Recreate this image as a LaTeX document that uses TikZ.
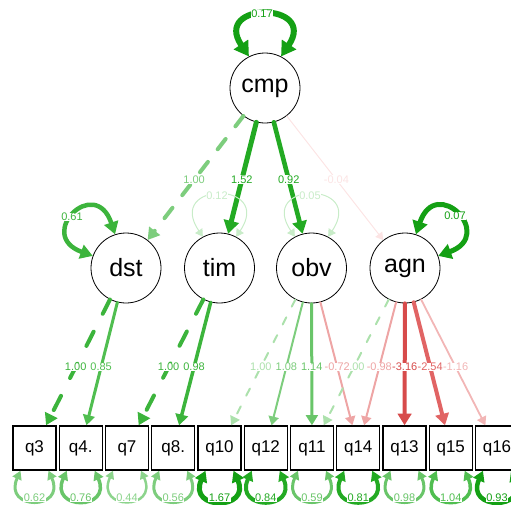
\documentclass[tikz,border=0pt]{standalone}
\usepackage{fontspec}
\setmainfont{Liberation Sans}
\usetikzlibrary{arrows.meta,calc}
\definecolor{gA}{RGB}{20,160,20}
\definecolor{gB}{RGB}{35,170,35}
\definecolor{gC}{RGB}{60,180,60}
\definecolor{gD}{RGB}{80,190,80}
\definecolor{gE}{RGB}{105,197,105}
\definecolor{gF}{RGB}{125,205,125}
\definecolor{gG}{RGB}{140,212,140}
\definecolor{gH}{RGB}{172,225,172}
\definecolor{gI}{RGB}{200,236,200}
\definecolor{rA}{RGB}{215,75,75}
\definecolor{rB}{RGB}{225,100,100}
\definecolor{rC}{RGB}{238,165,165}
\definecolor{rD}{RGB}{242,182,182}
\definecolor{rE}{RGB}{252,228,228}
\tikzset{
  semtip/.tip={Triangle[length=6pt 1.4,width=7pt 1.6]},
  boxtip/.tip={Triangle[length=5pt 1.2,width=5pt 1.5]},
}
\begin{document}
\begin{tikzpicture}[x=1pt,y=-1pt,
  lat/.style={circle,draw=black,fill=white,line width=0.8pt,minimum size=70pt,inner sep=0pt,font=\fontsize{25}{30}\selectfont},
  man/.style={rectangle,draw=black,fill=white,line width=1.4pt,minimum width=43pt,minimum height=44pt,inner sep=0pt,font=\fontsize{17}{20}\selectfont},
  ed/.style={line cap=round,-{semtip}},
  lloop/.style={line cap=round,{semtip}-{semtip}},
  bloop/.style={line cap=round,{boxtip}-{boxtip}},
  lbl/.style={fill=white,inner sep=0.5pt,font=\fontsize{11}{13}\selectfont},
]
\useasboundingbox (0,0) rectangle (511,504);
% latent nodes
\node[lat] (cmp) at (265,88) {cmp};
\node[lat] (dst) at (126,268) {dst};
\node[lat] (tim) at (219.5,268) {tim};
\node[lat] (obv) at (311.5,268) {obv};
\node[lat] (agn) at (405,268) {agn};
% manifest nodes
\node[man] (q3) at (34.5,448) {q3};
\node[man] (q4) at (80.75,448) {q4.};
\node[man] (q7) at (127,448) {q7};
\node[man] (q8) at (173.25,448) {q8.};
\node[man] (q10) at (219.5,448) {q10};
\node[man] (q12) at (265.75,448) {q12};
\node[man] (q11) at (312,448) {q11};
\node[man] (q14) at (358.25,448) {q14};
\node[man] (q13) at (404.5,448) {q13};
\node[man] (q15) at (450.75,448) {q15};
\node[man] (q16) at (497,448) {q16};
% upper edges
\draw[ed,gF,line width=4pt,dash pattern=on 13pt off 16pt] (cmp) -- (dst);
\draw[ed,gB,line width=5pt] (cmp) -- (tim);
\draw[ed,gB,line width=4.6pt] (cmp) -- (obv);
\draw[ed,rE,line width=1pt] (cmp) -- (agn);
% lower edges
\draw[ed,gC,line width=4pt,dash pattern=on 16pt off 20pt] (dst) -- (q3);
\draw[ed,gD,line width=3pt] (dst) -- (q4);
\draw[ed,gC,line width=4pt,dash pattern=on 16pt off 20pt] (tim) -- (q7);
\draw[ed,gC,line width=3.5pt] (tim) -- (q8);
\draw[ed,gH,line width=2pt,dash pattern=on 8pt off 12pt] (obv) -- (q10);
\draw[ed,gF,line width=2pt] (obv) -- (q12);
\draw[ed,gE,line width=3pt] (obv) -- (q11);
\draw[ed,rC,line width=2pt] (obv) -- (q14);
\draw[ed,gH,line width=2pt,dash pattern=on 8pt off 12pt] (agn) -- (q11);
\draw[ed,rC,line width=2pt] (agn) -- (q14);
\draw[ed,rA,line width=4pt] (agn) -- (q13);
\draw[ed,rB,line width=4pt] (agn) -- (q15);
\draw[ed,rD,line width=1.8pt] (agn) -- (q16);
% latent loops
\draw[lloop,gA,line width=6pt] (cmp.117) .. controls +(-37,-55) and +(37,-55) .. (cmp.63);
\draw[lloop,gC,line width=4.5pt] (dst.160) .. controls +(-58,-21) and +(-20,-60) .. (dst.108);
\draw[lloop,gA,line width=5pt] (agn.20) .. controls +(58,-21) and +(20,-60) .. (agn.72);
\draw[lloop,gI,line width=1pt] (tim.118) .. controls +(-38,-56) and +(38,-56) .. (tim.62);
\draw[lloop,gI,line width=1pt] (obv.118) .. controls +(-38,-56) and +(38,-56) .. (obv.62);
% manifest loops
\foreach \n/\c/\w/\l in {q3/gF/3/0.62, q4/gE/3.5/0.76, q7/gG/2.5/0.44, q8/gF/3/0.56, q10/gA/5/1.67, q12/gB/4/0.84, q11/gE/3/0.59, q14/gB/4/0.81, q13/gE/3/0.98, q15/gD/3.5/1.04, q16/gA/4.5/0.93}{
  \draw[bloop,\c,line width=\w pt] ([xshift=-14pt]\n.south) .. controls +(-18,40) and +(18,40) .. ([xshift=14pt]\n.south);
  \node[lbl,text=\c] (r\n) at ($(\n.south)+(0,27)$) {\l};
}
% loop labels
\node[lbl,text=gA] (lcmp) at (262,14) {0.17};
\node[lbl,text=gC] (ldst) at (72,217) {0.61};
\node[lbl,text=gA] (lagn) at (455,216) {0.07};
\node[lbl,text=gI] (ltim) at (217,196) {0.12};
\node[lbl,text=gI] (lobv) at (310,196) {0.05};
% upper edge labels
\node[lbl,text=gF] at ($(cmp)!0.51!(dst)$) {1.00};
\node[lbl,text=gB] at ($(cmp)!0.51!(tim)$) {1.52};
\node[lbl,text=gB] at ($(cmp)!0.51!(obv)$) {0.92};
\node[lbl,text=rE] at ($(cmp)!0.51!(agn)$) {-0.04};
% lower edge labels
\node[lbl,text=gC] at ($(dst)!0.55!(q3)$) {1.00};
\node[lbl,text=gD] at ($(dst)!0.55!(q4)$) {0.85};
\node[lbl,text=gC] at ($(tim)!0.55!(q7)$) {1.00};
\node[lbl,text=gC] at ($(tim)!0.55!(q8)$) {0.98};
\node[lbl,text=gH] at ($(obv)!0.55!(q10)$) {1.00};
\node[lbl,text=gF] at ($(obv)!0.55!(q12)$) {1.08};
\node[lbl,text=gE] at ($(obv)!0.55!(q11)$) {1.14};
\node[lbl,text=gH] at ($(agn)!0.55!(q11)$) {1.00};
\node[lbl,text=rC] at ($(obv)!0.55!(q14)$) {-0.72};
\node[lbl,text=rC] at ($(agn)!0.55!(q14)$) {-0.98};
\node[lbl,text=rA] at ($(agn)!0.55!(q13)$) {-3.16};
\node[lbl,text=rB] at ($(agn)!0.55!(q15)$) {-2.54};
\node[lbl,text=rD] at ($(agn)!0.55!(q16)$) {-1.16};
\end{tikzpicture}
\end{document}
